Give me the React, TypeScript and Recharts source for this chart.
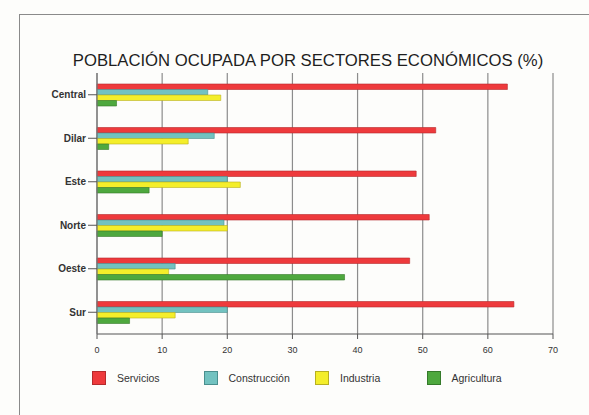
import React from 'react';
import { BarChart, Bar, XAxis, YAxis, CartesianGrid, Legend } from 'recharts';

const categories = ['Central', 'Dilar', 'Este', 'Norte', 'Oeste', 'Sur'];
const servicios = [63, 52, 49, 51, 48, 64];
const construccion = [17, 18, 20, 19.5, 12, 20];
const industria = [19, 14, 22, 20, 11, 12];
const agricultura = [3, 1.8, 8, 10, 38, 5];
const xTicks = [0, 10, 20, 30, 40, 50, 60, 70];

const series = [
  { key: 'servicios', name: 'Servicios', fill: '#ee3a3c', stroke: '#b52a2c' },
  { key: 'construccion', name: 'Construcción', fill: '#72c2c0', stroke: '#4a8f8e' },
  { key: 'industria', name: 'Industria', fill: '#f4ee2a', stroke: '#b8b020' },
  { key: 'agricultura', name: 'Agricultura', fill: '#4ea83e', stroke: '#357a2a' },
];

const data = categories.map((c, i) => ({
  name: c,
  servicios: servicios[i],
  construccion: construccion[i],
  industria: industria[i],
  agricultura: agricultura[i],
}));

const FONT = '"Liberation Sans", Arial, sans-serif';

const LegendContent = () => (
  <div style={{ height: 20, position: 'relative', fontFamily: FONT, fontSize: 10.5, color: '#333' }}>
    {series.map((s, i) => (
      <div
        key={s.key}
        style={{
          position: 'absolute',
          left: 92 + i * 111.5,
          top: 0,
          height: 20,
          display: 'flex',
          alignItems: 'center',
        }}
      >
        <div
          style={{
            width: 14,
            height: 14,
            background: s.fill,
            border: `1px solid ${s.stroke}`,
            boxSizing: 'border-box',
            marginRight: 11,
          }}
        />
        <span>{s.name}</span>
      </div>
    ))}
  </div>
);

export default function App() {
  return (
    <div style={{ position: 'absolute', left: 0, top: 0, width: 589, height: 415, background: '#fdfdfb', overflow: 'hidden' }}>
      <div
        style={{
          position: 'absolute',
          left: 19,
          top: 14,
          width: 600,
          height: 500,
          borderLeft: '1.5px solid #8a8a8a',
          borderTop: '1.5px solid #8a8a8a',
        }}
      />
      <div
        style={{
          position: 'absolute',
          left: 0,
          width: 616,
          top: 51,
          textAlign: 'center',
          fontFamily: FONT,
          fontSize: 16.7,
          color: '#1e1e1e',
          whiteSpace: 'nowrap',
        }}
      >
        POBLACIÓN OCUPADA POR SECTORES ECONÓMICOS (%)
      </div>
      <div style={{ position: 'absolute', left: 0, top: 0 }}>
        <BarChart
          width={589}
          height={415}
          data={data}
          layout="vertical"
          margin={{ top: 73, right: 36, bottom: 27, left: 0 }}
          barSize={5.5}
          barGap={0}
        >
          <CartesianGrid horizontal={false} vertical stroke="#8c8c8c" strokeWidth={1.2} />
          <XAxis
            type="number"
            domain={[0, 70]}
            ticks={xTicks}
            interval={0}
            height={34}
            axisLine={{ stroke: '#555', strokeWidth: 1.2 }}
            tickLine={{ stroke: '#555' }}
            tickSize={5}
            tickMargin={8}
            tick={{ fontSize: 9, fill: '#333', fontFamily: FONT }}
          />
          <YAxis
            type="category"
            dataKey="name"
            width={97}
            axisLine={{ stroke: '#777', strokeWidth: 1.2 }}
            tickLine={{ stroke: '#555' }}
            tickSize={9}
            tickMargin={2}
            tick={{ fontSize: 10, fill: '#333', fontWeight: 'bold', fontFamily: FONT }}
          />
          <Legend verticalAlign="bottom" content={<LegendContent />} />
          {series.map((s) => (
            <Bar
              key={s.key}
              dataKey={s.key}
              name={s.name}
              fill={s.fill}
              stroke={s.stroke}
              strokeWidth={0.6}
              isAnimationActive={false}
            />
          ))}
        </BarChart>
      </div>
    </div>
  );
}
